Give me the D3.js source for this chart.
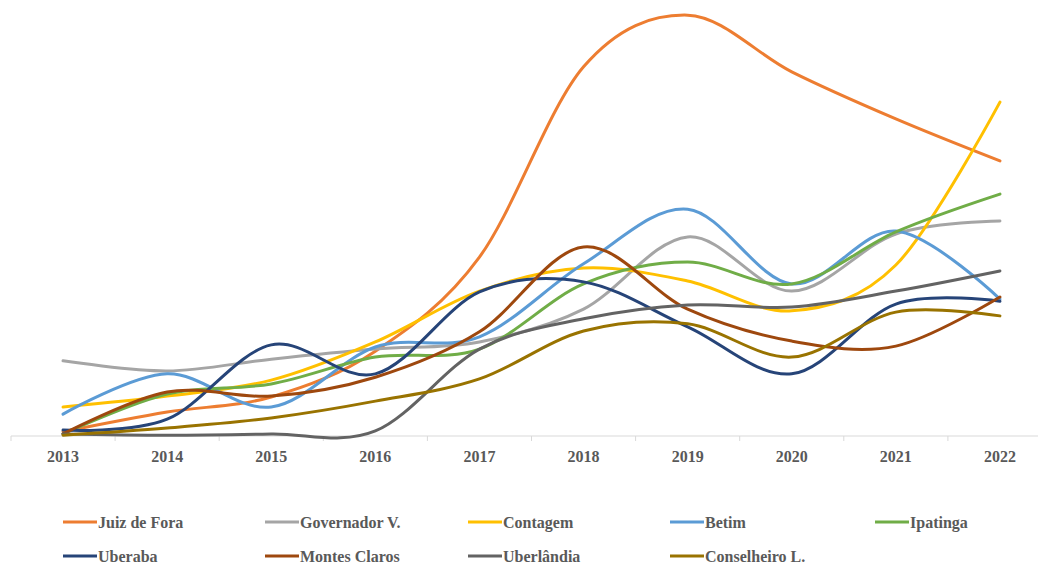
<!DOCTYPE html>
<html>
<head>
<meta charset="utf-8">
<script src="https://cdn.jsdelivr.net/npm/d3@7"></script>
<style>
  html, body { margin: 0; padding: 0; background: #fff; }
  svg { display: block; }
  text { font-family: "Liberation Serif", "Times New Roman", serif; font-weight: bold; fill: #595959; }
</style>
</head>
<body>
<svg id="chart" width="1038" height="564"></svg>
<script>
const years = ["2013","2014","2015","2016","2017","2018","2019","2020","2021","2022"];

const juizDeFora     = [1.0, 5.7, 9.3, 20.2, 42.6, 87.9, 100.2, 86.7, 75.5, 65.5];
const governadorV    = [17.9, 15.5, 18.3, 20.7, 22.4, 30.2, 47.4, 34.5, 48.1, 51.2];
const contagem       = [6.9, 9.5, 13.3, 22.4, 34.5, 40.0, 36.9, 29.8, 40.7, 79.5];
const betim          = [5.2, 14.8, 6.9, 21.2, 23.6, 41.0, 54.0, 36.2, 48.8, 32.6];
const ipatinga       = [0.5, 10.0, 12.4, 18.8, 20.7, 36.2, 41.4, 36.2, 48.6, 57.6];
const uberaba        = [1.4, 4.0, 21.7, 14.8, 34.3, 36.7, 26.0, 14.8, 31.4, 32.1];
const montesClaros   = [0.5, 10.5, 9.5, 14.0, 24.8, 45.0, 30.2, 22.6, 21.4, 33.1];
const uberlandia     = [0.5, 0.2, 0.5, 1.2, 20.7, 27.9, 31.2, 30.7, 34.5, 39.3];
const conselheiroL   = [0.2, 1.9, 4.3, 8.3, 13.6, 25.0, 26.7, 18.8, 29.5, 28.6];

const seriesNames  = ["Juiz de Fora","Governador V.","Contagem","Betim","Ipatinga","Uberaba","Montes Claros","Uberlândia","Conselheiro L."];
const seriesValues = [juizDeFora, governadorV, contagem, betim, ipatinga, uberaba, montesClaros, uberlandia, conselheiroL];
const seriesColors = ["#ED7D31","#A5A5A5","#FFC000","#5B9BD5","#70AD47","#264478","#9E480E","#636363","#997300"];

const svg = d3.select("#chart");

// category bands span the plot width; lines pass through band centres
const x = d3.scaleBand().domain(years).range([11, 1052]).paddingInner(0).paddingOuter(0);
const cx = d => x(d) + x.bandwidth() / 2;
const y = d3.scaleLinear().domain([0, 100]).range([436, 16]);

// axis line with ticks on the category boundaries
const axisG = svg.append("g");
axisG.append("line")
  .attr("x1", 11).attr("x2", 1038)
  .attr("y1", y(0)).attr("y2", y(0))
  .attr("stroke", "#d9d9d9").attr("stroke-width", 1);
axisG.selectAll("line.tick")
  .data(years)
  .join("line")
  .attr("class", "tick")
  .attr("x1", d => x(d)).attr("x2", d => x(d))
  .attr("y1", y(0)).attr("y2", y(0) + 5)
  .attr("stroke", "#d9d9d9").attr("stroke-width", 1);
axisG.selectAll("text")
  .data(years)
  .join("text")
  .attr("x", d => cx(d))
  .attr("y", 462)
  .attr("text-anchor", "middle")
  .style("font-size", "16px")
  .text(d => d);

// smoothed series lines
const line = d3.line()
  .x((v, i) => cx(years[i]))
  .y(v => y(v))
  .curve(d3.curveCardinal.tension(0));

svg.append("g")
  .selectAll("path")
  .data(seriesValues)
  .join("path")
  .attr("d", d => line(d))
  .attr("fill", "none")
  .attr("stroke", (d, i) => seriesColors[i])
  .attr("stroke-width", 3)
  .attr("stroke-linecap", "round");

// legend: two rows, five columns
const legendX = [63, 265, 468, 670, 875];
const legendY = [522, 556];
const legend = svg.append("g")
  .selectAll("g")
  .data(seriesNames)
  .join("g")
  .attr("transform", (d, i) => `translate(${legendX[i % 5]},${legendY[Math.floor(i / 5)]})`);
legend.append("line")
  .attr("x1", 0).attr("x2", 34)
  .attr("y1", 0).attr("y2", 0)
  .attr("stroke", (d, i) => seriesColors[i])
  .attr("stroke-width", 3);
legend.append("text")
  .attr("x", 35)
  .attr("y", 5.5)
  .style("font-size", "16px")
  .text(d => d);
</script>
</body>
</html>
